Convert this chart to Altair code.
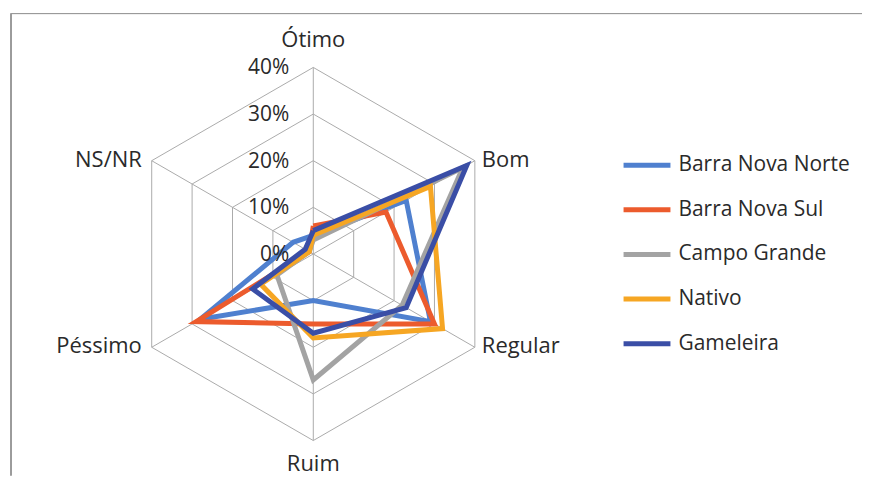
import altair as alt
import pandas as pd

# ---------------- data ----------------
categories = ["Ótimo", "Bom", "Regular", "Ruim", "Péssimo", "NS/NR"]
series_names = ["Barra Nova Norte", "Barra Nova Sul", "Campo Grande", "Nativo", "Gameleira"]
barra_nova_norte = [4, 23, 29, 10, 28, 5]
barra_nova_sul = [6, 18, 30, 15, 29, 1]
campo_grande = [3, 37, 22, 27, 9, 1]
nativo = [4, 29, 32, 18, 13, 1]
gameleira = [5, 38, 23, 17, 15, 2]
tick_values = [0, 10, 20, 30, 40]
series_colors = ["#4F80CF", "#EC5B2D", "#A3A3A3", "#F6A623", "#3A4EA6"]

series_values = [barra_nova_norte, barra_nova_sul, campo_grande, nativo, gameleira]

# ---------------- layout (style) ----------------
W, H = 856, 468
CX, CY = 306, 246          # centre of the radar, in chart pixels
K = 187 / 40.0             # pixels per percentage point
FONT = "Open Sans"
TXT = "#2a2a2a"
GRID = "#ababab"

xdom = [-CX / K, (W - CX) / K]
ydom = [-(H - CY) / K, CY / K]
xs = alt.Scale(domain=xdom, nice=False, zero=False)
ys = alt.Scale(domain=ydom, nice=False, zero=False)

# long tables
rows = []
for s, vals in zip(series_names, series_values):
    for i in range(len(categories) + 1):
        rows.append({"serie": s, "idx": i, "value": vals[i % len(categories)]})
df = pd.DataFrame(rows)

ring_rows = []
for r in tick_values[1:]:
    for i in range(len(categories) + 1):
        ring_rows.append({"ring": r, "idx": i, "value": r})
rings = pd.DataFrame(ring_rows)

spokes = pd.DataFrame({"idx": list(range(len(categories))), "value": [tick_values[-1]] * len(categories)})
labels = pd.DataFrame({"cat": categories, "idx": list(range(len(categories))),
                       "value": [tick_values[-1]] * len(categories)})
ticks = pd.DataFrame({"value": tick_values})
legend_df = pd.DataFrame({"serie": series_names, "rank": list(range(len(series_names)))})

polar = dict(
    px="datum.value * sin(datum.idx * PI / 3)",
    py="datum.value * cos(datum.idx * PI / 3)",
)

color = alt.Color("serie:N", scale=alt.Scale(domain=series_names, range=series_colors), legend=None)

grid_rings = alt.Chart(rings).transform_calculate(**polar).mark_line(
    color=GRID, strokeWidth=1
).encode(
    x=alt.X("px:Q", scale=xs, axis=None),
    y=alt.Y("py:Q", scale=ys, axis=None),
    detail="ring:N",
    order="idx:Q",
)

grid_spokes = alt.Chart(spokes).transform_calculate(**polar, zx="0", zy="0").mark_rule(
    color=GRID, strokeWidth=1
).encode(
    x=alt.X("zx:Q", scale=xs, axis=None),
    y=alt.Y("zy:Q", scale=ys, axis=None),
    x2="px:Q",
    y2="py:Q",
)

lines = alt.Chart(df).transform_calculate(**polar).mark_line(
    strokeWidth=5, strokeJoin="miter"
).encode(
    x=alt.X("px:Q", scale=xs, axis=None),
    y=alt.Y("py:Q", scale=ys, axis=None),
    color=color,
    detail="serie:N",
    order="idx:Q",
)

def cat_text(idx_list, align, dx=0, dy=0):
    return alt.Chart(labels).transform_filter(
        alt.FieldOneOfPredicate(field="idx", oneOf=idx_list)
    ).transform_calculate(**polar).mark_text(
        align=align, baseline="middle", dx=dx, dy=dy, font=FONT, fontSize=22, color=TXT
    ).encode(
        x=alt.X("px:Q", scale=xs, axis=None),
        y=alt.Y("py:Q", scale=ys, axis=None),
        text="cat:N",
    )

lab_top = cat_text([0], "center", dy=-27)
lab_bottom = cat_text([3], "center", dy=24)
lab_right = cat_text([1, 2], "left", dx=7, dy=-1)
lab_left = cat_text([4, 5], "right", dx=-10, dy=-1)

tick_text = alt.Chart(ticks).transform_calculate(
    zx="0", lbl="datum.value + '%'"
).mark_text(
    align="right", baseline="middle", dx=-24, dy=1, font=FONT, fontSize=21, color=TXT
).encode(
    x=alt.X("zx:Q", scale=xs, axis=None),
    y=alt.Y("value:Q", scale=ys, axis=None),
    text="lbl:N",
)

leg_y = alt.Y("rank:Q", scale=alt.Scale(domain=[0, 4], range=[157, 336]), axis=None)
leg_lines = alt.Chart(legend_df).mark_rule(strokeWidth=5).encode(
    x=alt.value(617), x2=alt.value(664), y=leg_y, color=color
)
leg_text = alt.Chart(legend_df).mark_text(
    align="left", baseline="middle", font=FONT, fontSize=21, color=TXT
).encode(x=alt.value(672), y=leg_y, text="serie:N")

frame_top = alt.Chart(ticks).mark_rule(color="#9a9a9a", strokeWidth=1).encode(
    x=alt.value(3), x2=alt.value(W), y=alt.value(5)
)
frame_left = alt.Chart(ticks).mark_rule(color="#9a9a9a", strokeWidth=1).encode(
    x=alt.value(3), y=alt.value(5), y2=alt.value(H)
)

radar = alt.layer(
    grid_rings, grid_spokes, lines, lab_top, lab_bottom, lab_right, lab_left, tick_text
)
legend = alt.layer(leg_lines, leg_text)

chart = alt.layer(radar, legend, frame_top, frame_left).resolve_scale(
    x="independent", y="independent", color="shared"
).properties(
    width=W, height=H, padding=0, background="white",
    autosize=alt.AutoSizeParams(type="none")
).configure_view(stroke="transparent", strokeWidth=0)

chart.save("out.html", embed_options={"renderer": "svg", "actions": False})
